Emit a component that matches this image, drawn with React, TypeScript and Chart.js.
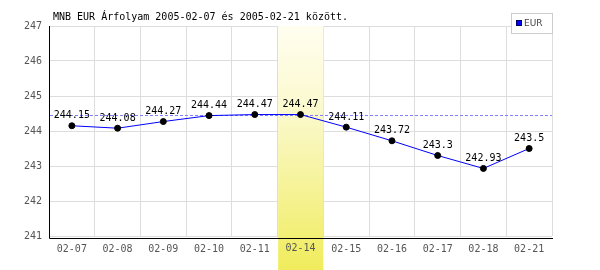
import React, { useEffect, useRef } from "react";
import { Chart, registerables } from "chart.js";

Chart.register(...registerables);

const titleText = "MNB EUR Árfolyam 2005-02-07 és 2005-02-21 között.";
const seriesName = "EUR";
const categories = ["02-07", "02-08", "02-09", "02-10", "02-11", "02-14", "02-15", "02-16", "02-17", "02-18", "02-21"];
const eurValues = [244.15, 244.08, 244.27, 244.44, 244.47, 244.47, 244.11, 243.72, 243.3, 242.93, 243.5];
const valueLabels = ["244.15", "244.08", "244.27", "244.44", "244.47", "244.47", "244.11", "243.72", "243.3", "242.93", "243.5"];
const yMin = 241;
const yMax = 247;
const yStep = 1;
const highlightIndex = 5;

const MONO = "'DejaVu Sans Mono', monospace";
const TICK_COLOR = "#555555";

const overlayPlugin = {
  id: "overlay",
  beforeDatasetsDraw(chart: any) {
    const { ctx, chartArea, scales } = chart;
    const x = scales.x;
    const y = scales.y;
    const half = (x.getPixelForValue(1) - x.getPixelForValue(0)) / 2;
    const cx = x.getPixelForValue(highlightIndex);
    const bx0 = cx - half;
    const bx1 = cx + half;
    ctx.save();
    const g = ctx.createLinearGradient(0, chartArea.top, 0, chart.height);
    g.addColorStop(0, "#fffef0");
    g.addColorStop(0.35, "#fbf9cc");
    g.addColorStop(0.7, "#f5f292");
    g.addColorStop(1, "#f0ec5c");
    ctx.fillStyle = g;
    ctx.fillRect(bx0 + 0.5, chartArea.top, bx1 - bx0 - 0.5, chart.height - chartArea.top);
    // redraw highlighted tick label
    ctx.font = "10px " + MONO;
    ctx.fillStyle = TICK_COLOR;
    ctx.textAlign = "center";
    ctx.textBaseline = "top";
    ctx.fillText(categories[highlightIndex], cx, chartArea.bottom + 7);
    // axis lines
    ctx.strokeStyle = "#000000";
    ctx.lineWidth = 1;
    ctx.beginPath();
    ctx.moveTo(Math.round(chartArea.left) + 0.5, chartArea.top);
    ctx.lineTo(Math.round(chartArea.left) + 0.5, chartArea.bottom + 2.5);
    ctx.lineTo(chartArea.right + 1, chartArea.bottom + 2.5);
    ctx.stroke();
    // max dashed line
    const maxV = Math.max(...eurValues);
    const my = Math.round(y.getPixelForValue(maxV)) + 0.5;
    ctx.strokeStyle = "#8080ff";
    ctx.setLineDash([3, 2]);
    ctx.beginPath();
    ctx.moveTo(chartArea.left + 1, my);
    ctx.lineTo(chartArea.right, my);
    ctx.stroke();
    ctx.restore();
  },
  afterDatasetsDraw(chart: any) {
    const { ctx } = chart;
    const meta = chart.getDatasetMeta(0);
    ctx.save();
    ctx.font = "10px " + MONO;
    ctx.fillStyle = "#000000";
    ctx.textAlign = "center";
    ctx.textBaseline = "bottom";
    meta.data.forEach((pt: any, i: number) => {
      ctx.fillText(valueLabels[i], pt.x, pt.y - 5);
    });
    // title
    ctx.textAlign = "left";
    ctx.textBaseline = "alphabetic";
    ctx.fillText(titleText, 53, 20);
    // legend
    ctx.fillStyle = "#ffffff";
    ctx.fillRect(511, 13, 42, 20);
    ctx.strokeStyle = "#cccccc";
    ctx.strokeRect(511.5, 13.5, 41, 20);
    ctx.fillStyle = "#0000ff";
    ctx.fillRect(516, 20, 6, 6);
    ctx.strokeStyle = "#000066";
    ctx.strokeRect(516.5, 20.5, 5, 5);
    ctx.fillStyle = "#444444";
    ctx.font = "9px 'DejaVu Sans', sans-serif";
    ctx.textBaseline = "middle";
    ctx.fillText(seriesName, 524, 23.5);
    ctx.restore();
  },
};

export default function App() {
  const ref = useRef<HTMLCanvasElement>(null);
  useEffect(() => {
    document.body.style.margin = "0";
    const canvas = ref.current!;
    const chart = new Chart(canvas, {
      type: "line",
      data: {
        labels: categories,
        datasets: [
          {
            label: seriesName,
            data: eurValues,
            borderColor: "#0000ff",
            borderWidth: 1,
            backgroundColor: "#000000",
            pointBackgroundColor: "#000000",
            pointBorderColor: "#000000",
            pointRadius: 3,
            pointBorderWidth: 1,
            tension: 0,
            fill: false,
          },
        ],
      },
      options: {
        responsive: false,
        animation: false,
        layout: { padding: { top: 26, right: 48, left: 0, bottom: 0 } },
        plugins: {
          legend: { display: false },
          title: { display: false },
          tooltip: { enabled: false },
        },
        scales: {
          x: {
            type: "category",
            offset: true,
            grid: { color: "#dddddd", drawTicks: false, offset: true },
            border: { display: false },
            ticks: {
              color: (c: any) => (c.index === highlightIndex ? "rgba(0,0,0,0)" : TICK_COLOR),
              font: { family: MONO, size: 10 },
              padding: 7,
              maxRotation: 0,
              autoSkip: false,
            },
            afterFit: (s: any) => {
              s.height = 34;
            },
          },
          y: {
            min: yMin,
            max: yMax,
            grid: { color: "#dddddd", drawTicks: false },
            border: { display: false },
            ticks: {
              stepSize: yStep,
              color: TICK_COLOR,
              font: { family: MONO, size: 10 },
              padding: 7,
            },
            afterFit: (s: any) => {
              s.width = 49;
            },
          },
        },
      },
      plugins: [overlayPlugin],
    });
    return () => chart.destroy();
  }, []);
  return <canvas ref={ref} width={600} height={270} style={{ display: "block" }} />;
}
